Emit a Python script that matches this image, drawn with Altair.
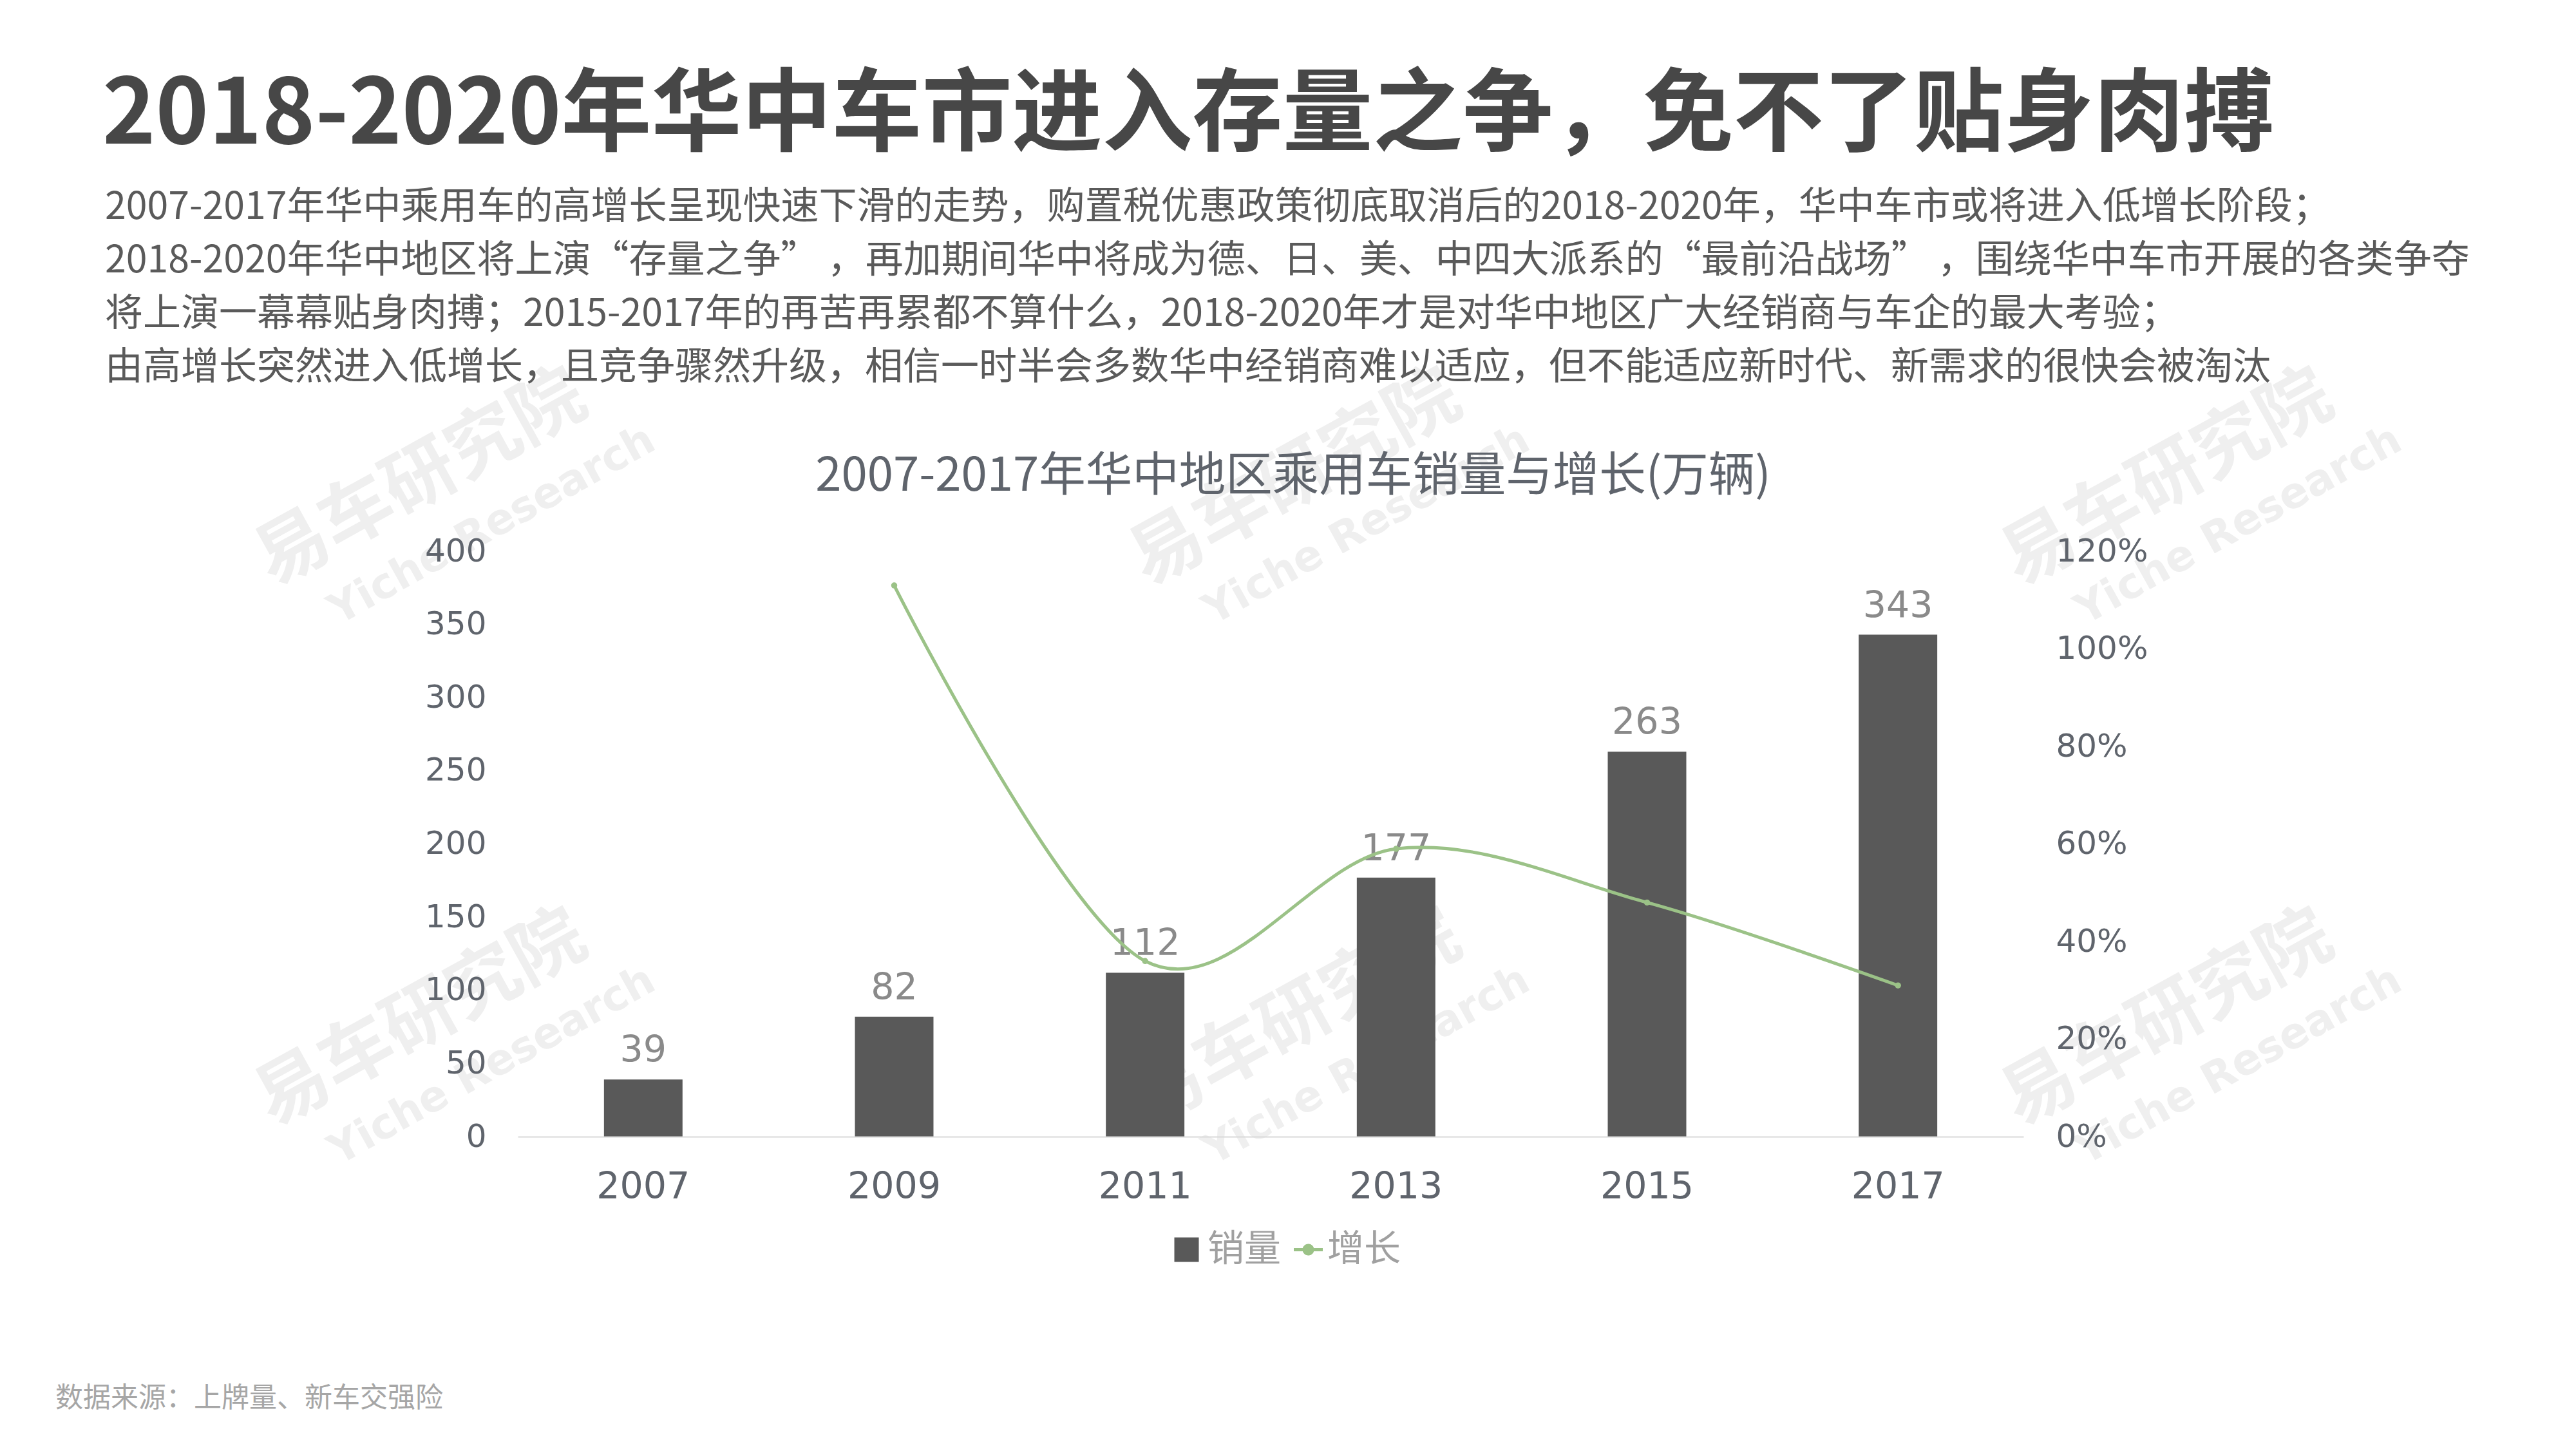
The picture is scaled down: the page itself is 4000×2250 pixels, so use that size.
import altair as alt
import pandas as pd

# ---------------- data ----------------
years = ["2007", "2009", "2011", "2013", "2015", "2017"]
sales = [39, 82, 112, 177, 263, 343]
growth_years = ["2009", "2011", "2013", "2015", "2017"]
growth_pct = [113, 36, 59, 48, 31]
left_ticks = [0, 50, 100, 150, 200, 250, 300, 350, 400]
right_ticks = [0, 0.2, 0.4, 0.6, 0.8, 1.0, 1.2]

main_title = "2018-2020年华中车市进入存量之争，免不了贴身肉搏"
paragraph = [
    "2007-2017年华中乘用车的高增长呈现快速下滑的走势，购置税优惠政策彻底取消后的2018-2020年，华中车市或将进入低增长阶段；",
    "2018-2020年华中地区将上演“存量之争” ，再加期间华中将成为德、日、美、中四大派系的“最前沿战场” ，围绕华中车市开展的各类争夺",
    "将上演一幕幕贴身肉搏；2015-2017年的再苦再累都不算什么，2018-2020年才是对华中地区广大经销商与车企的最大考验；",
    "由高增长突然进入低增长，且竞争骤然升级，相信一时半会多数华中经销商难以适应，但不能适应新时代、新需求的很快会被淘汰",
]
chart_title = "2007-2017年华中地区乘用车销量与增长(万辆)"
source_note = "数据来源：上牌量、新车交强险"
wm_cn = "易车研究院"
wm_en = "Yiche Research"

CJK = "Noto Sans CJK SC"
NUM = "DejaVu Sans"
BAR = "#595959"
GREEN = "#9bc287"
AXIS_TXT = "#5f646c"

bar_df = pd.DataFrame({"year": years, "sales": sales, "s": ["销量"] * len(years)})
line_df = pd.DataFrame({
    "year": growth_years,
    "growth": [g / 100 for g in growth_pct],
    "s": ["增长"] * len(growth_years),
})

x_enc = alt.X(
    "year:N", sort=years,
    scale=alt.Scale(paddingInner=0.687, paddingOuter=0.3435),
    axis=alt.Axis(title=None, labelAngle=0, ticks=False, grid=False,
                  domainColor="#d9d9d9", domainWidth=2, labelPadding=50,
                  labelFontSize=57, labelColor=AXIS_TXT, labelFont=NUM, zindex=1),
)

bars = alt.Chart(bar_df).mark_bar().encode(
    x=x_enc,
    y=alt.Y("sales:Q", scale=alt.Scale(domain=[0, 400]),
            axis=alt.Axis(title=None, values=left_ticks, grid=False, domain=False,
                          ticks=False, labelPadding=49, labelFontSize=50,
                          labelColor=AXIS_TXT, labelFont=NUM, zindex=1)),
    color=alt.Color("s:N", scale=alt.Scale(domain=["销量"], range=[BAR]),
                    legend=alt.Legend(orient="none", legendX=1010, legendY=1056,
                                      title=None, symbolType="square", symbolSize=1444,
                                      labelFontSize=57, labelFont=CJK, labelColor="#a0a0a0",
                                      labelOffset=4, padding=0, symbolStrokeWidth=0)),
)
bar_labels = alt.Chart(bar_df).mark_text(
    baseline="bottom", dy=-15, fontSize=57, font=NUM, color="#8a8a8a"
).encode(x=alt.X("year:N", sort=years), y="sales:Q", text="sales:Q")

bar_group = alt.layer(bars, bar_labels)

sym = "M-1,-0.11L1,-0.11L1,0.11L-1,0.11Z M-0.4,0A0.4,0.4,0,1,1,0.4,0A0.4,0.4,0,1,1,-0.4,0Z"
line = alt.Chart(line_df).mark_line(interpolate="cardinal", strokeWidth=5).encode(
    x=alt.X("year:N", sort=years),
    y=alt.Y("growth:Q", scale=alt.Scale(domain=[0, 1.2]),
            axis=alt.Axis(orient="right", title=None, format=".0%", values=right_ticks,
                          grid=False, domain=False, ticks=False, labelPadding=50,
                          labelFontSize=50, labelColor=AXIS_TXT, labelFont=NUM, zindex=1)),
    color=alt.Color("s:N", scale=alt.Scale(domain=["增长"], range=[GREEN]),
                    legend=alt.Legend(orient="none", legendX=1199, legendY=1056,
                                      title=None, symbolType=sym, symbolSize=2025,
                                      symbolFillColor=GREEN, symbolStrokeColor=GREEN,
                                      symbolStrokeWidth=0,
                                      labelFontSize=57, labelFont=CJK, labelColor="#a0a0a0",
                                      labelOffset=1, padding=0)),
)
points = alt.Chart(line_df).mark_point(filled=True, size=90, opacity=1).encode(
    x=alt.X("year:N", sort=years), y="growth:Q", color=alt.value(GREEN)
)
line_group = alt.layer(line, points)

one = pd.DataFrame({"t": [0]})


def txt(text, x, y, **kw):
    return alt.Chart(one).mark_text(text=text, **kw).encode(x=alt.value(x), y=alt.value(y))


# watermarks
wm_layers = []
for cx, cy in [(-150, -112), (1208, -112), (2562, -112), (-150, 727), (1208, 727), (2562, 727)]:
    wm_layers.append(txt(wm_cn, cx, cy, font=CJK, fontSize=113, fontWeight="bold",
                         color="#efefef", angle=331, align="center", baseline="middle"))
    wm_layers.append(txt(wm_en, cx + 110, cy + 72, font=NUM, fontSize=66, fontWeight="bold",
                         color="#efefef", angle=331, align="center", baseline="middle"))

texts = [
    txt(main_title, -645, -633, font=CJK, fontSize=140, fontWeight="bold",
        color="#474747", align="left", baseline="alphabetic"),
    txt(chart_title, 1204, -94, font=CJK, fontSize=72.5, color=AXIS_TXT,
        align="center", baseline="alphabetic"),
    txt(source_note, -718, 1329, font=CJK, fontSize=43, color="#a6a6a6",
        align="left", baseline="alphabetic"),
]
for i, line_txt in enumerate(paragraph):
    texts.append(txt(line_txt, -641, -516 + 83 * i, font=CJK, fontSize=59,
                     color="#5a5a5a", align="left", baseline="alphabetic"))

chart = alt.layer(*wm_layers, bar_group, line_group, *texts).resolve_scale(
    y="independent", color="independent"
).properties(
    width=2338, height=909,
    autosize=alt.AutoSizeParams(type="none"),
    padding={"left": 796, "top": 848, "right": 850, "bottom": 477},
    background="white",
).configure_view(stroke=None)

chart.save("out.html", embed_options={"renderer": "svg", "actions": False})
